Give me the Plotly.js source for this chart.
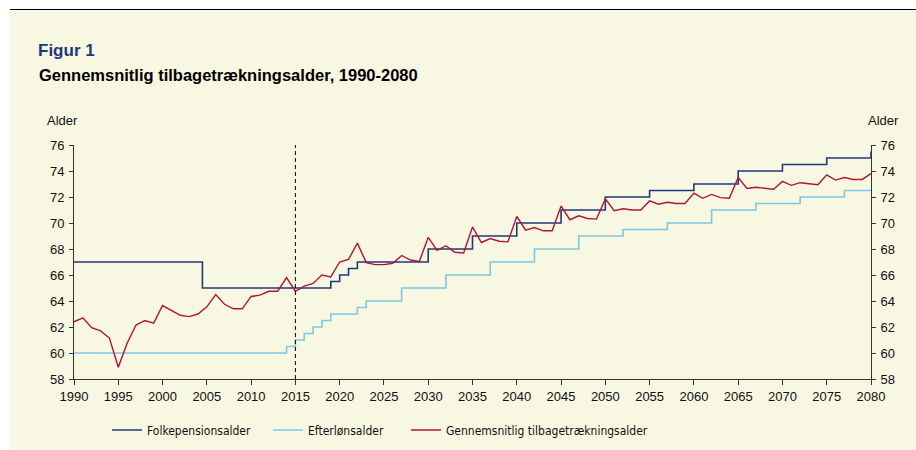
<!DOCTYPE html>
<html>
<head>
<meta charset="utf-8">
<script src="https://cdn.plot.ly/plotly-3.0.1.min.js"></script>
<style>
  html, body { margin: 0; padding: 0; background: #ffffff; }
  #frame { position: absolute; left: 10px; top: 9px; width: 906px; height: 441px;
           background: #F8F7E1; border-top: 1px solid #000; }
  #chart { position: absolute; left: 0; top: 0; width: 916px; height: 450px; }
</style>
</head>
<body>
<div id="frame"></div>
<div id="chart"></div>
<script>
// ---- data ----
const startYear = 1990;
const endYear = 2080;
const years = [];
for (let y = startYear; y <= endYear; y++) years.push(y);

// Gennemsnitlig tilbagetrækningsalder (annual, 1990-2080)
const avgRetirementAge = [
  62.4, 62.7, 61.95, 61.7, 61.15, 58.9, 60.75, 62.15, 62.5, 62.3,
  63.65, 63.3, 62.9, 62.8, 63.0, 63.55, 64.5, 63.75, 63.4, 63.4,
  64.35, 64.45, 64.75, 64.75, 65.8, 64.75, 65.15, 65.35, 66.0, 65.85,
  67.0, 67.2, 68.45, 66.95, 66.8, 66.8, 66.9, 67.5, 67.15, 67.05,
  68.9, 67.9, 68.25, 67.75, 67.7, 69.7, 68.5, 68.8, 68.6, 68.55,
  70.5, 69.45, 69.65, 69.4, 69.4, 71.3, 70.25, 70.55, 70.35, 70.3,
  71.85, 70.95, 71.1, 71.0, 71.0, 71.7, 71.45, 71.6, 71.5, 71.5,
  72.3, 71.9, 72.2, 71.95, 71.9, 73.5, 72.65, 72.75, 72.65, 72.6,
  73.2, 72.9, 73.1, 73.0, 72.95, 73.7, 73.3, 73.5, 73.35, 73.35,
  73.8
];

// Folkepensionsalder (step changes)
const folkYears = [1990, 2004.5, 2019, 2020, 2021, 2022, 2030, 2035, 2040, 2045, 2050, 2055, 2060, 2065, 2070, 2075, 2080];
const folkAge   = [67,   65,     65.5, 66,   66.5, 67,   68,   69,   70,   71,   72,   72.5, 73,   74,   74.5, 75,   75.5];

// Efterlønsalder (step changes)
const eftYears = [1990, 2014, 2015, 2016, 2017, 2018, 2019, 2022, 2023, 2027, 2032, 2037, 2042, 2047, 2052, 2057, 2062, 2067, 2072, 2077, 2080];
const eftAge   = [60,   60.5, 61,   61.5, 62,   62.5, 63,   63.5, 64,   65,   66,   67,   68,   69,   69.5, 70,   71,   71.5, 72,   72.5, 72.5];

const seriesNames = ['Folkepensionsalder', 'Efterlønsalder', 'Gennemsnitlig tilbagetrækningsalder'];
const projectionStartYear = 2015;
const yTickVals = [58, 60, 62, 64, 66, 68, 70, 72, 74, 76];
const xTickVals = [1990, 1995, 2000, 2005, 2010, 2015, 2020, 2025, 2030, 2035, 2040, 2045, 2050, 2055, 2060, 2065, 2070, 2075, 2080];

// ---- chart ----
const FONT = 'Arial, "Liberation Sans", sans-serif';
const NARROW = '"Liberation Sans Narrow", "Arial Narrow", "DejaVu Sans Condensed", sans-serif';

const traces = [
  { x: folkYears, y: folkAge, name: seriesNames[0], type: 'scatter', mode: 'lines',
    line: { color: '#1F3A7A', width: 1.6, shape: 'hv' }, legend: 'legend', hoverinfo: 'skip' },
  { x: eftYears, y: eftAge, name: seriesNames[1], type: 'scatter', mode: 'lines',
    line: { color: '#7CC8E6', width: 1.6, shape: 'hv' }, legend: 'legend2', hoverinfo: 'skip' },
  { x: years, y: avgRetirementAge, name: seriesNames[2], type: 'scatter', mode: 'lines', yaxis: 'y2',
    line: { color: '#B0143C', width: 1.4 }, legend: 'legend3', hoverinfo: 'skip' }
];

const axisCommon = {
  showgrid: false, zeroline: false, showline: true, linecolor: '#333333', linewidth: 1,
  ticks: 'outside', tickcolor: '#333333', tickfont: { family: FONT, size: 13, color: '#111111' },
  fixedrange: true, automargin: false
};

const legendCommon = {
  orientation: 'h', xref: 'container', yref: 'container', yanchor: 'middle', y: 1 - 430 / 450, xanchor: 'left',
  bgcolor: 'rgba(0,0,0,0)', font: { family: NARROW, size: 12, color: '#111111' }
};

const layout = {
  width: 916, height: 450,
  margin: { l: 74, r: 45, t: 145, b: 71, autoexpand: false },
  paper_bgcolor: 'rgba(0,0,0,0)', plot_bgcolor: 'rgba(0,0,0,0)',
  font: { family: FONT, size: 13, color: '#111111' },
  title: {
    text: '<b>Figur 1</b>', font: { family: FONT, size: 17, color: '#1B3A7C' },
    xref: 'container', yref: 'container', x: 38 / 916, xanchor: 'left',
    y: 1 - 50 / 450, yanchor: 'middle'
  },
  showlegend: true,
  legend: Object.assign({}, legendCommon, { x: 107 / 916 }),
  legend2: Object.assign({}, legendCommon, { x: 268 / 916 }),
  legend3: Object.assign({}, legendCommon, { x: 406 / 916 }),
  xaxis: Object.assign({}, axisCommon, { range: [startYear, endYear], tickvals: xTickVals, ticklen: 5 }),
  yaxis: Object.assign({}, axisCommon, { range: [58, 76], tickvals: yTickVals, ticklen: 4, ticklabelstandoff: 2 }),
  yaxis2: Object.assign({}, axisCommon, { range: [58, 76], tickvals: yTickVals, ticklen: 4,
    overlaying: 'y', side: 'right', anchor: 'x', ticklabelstandoff: 2 }),
  shapes: [
    { type: 'line', xref: 'x', yref: 'paper', x0: projectionStartYear, x1: projectionStartYear, y0: 0, y1: 1,
      line: { color: '#000000', width: 1, dash: '4px,3px' } }
  ],
  annotations: [
    { text: '<b>Gennemsnitlig tilbagetrækningsalder, 1990-2080</b>', xref: 'paper', yref: 'paper',
      x: 0, xshift: -37, xanchor: 'left', y: 1, yshift: 70, yanchor: 'middle', showarrow: false,
      font: { family: FONT, size: 16.5, color: '#000000' } },
    { text: 'Alder', xref: 'paper', yref: 'paper', x: 0, xshift: -29, xanchor: 'left',
      y: 1, yshift: 25, yanchor: 'middle', showarrow: false, font: { family: FONT, size: 13, color: '#111111' } },
    { text: 'Alder', xref: 'paper', yref: 'paper', x: 1, xshift: -5, xanchor: 'left',
      y: 1, yshift: 25, yanchor: 'middle', showarrow: false, font: { family: FONT, size: 13, color: '#111111' } }
  ]
};

Plotly.newPlot('chart', traces, layout, { displayModeBar: false, staticPlot: true });
</script>
</body>
</html>
